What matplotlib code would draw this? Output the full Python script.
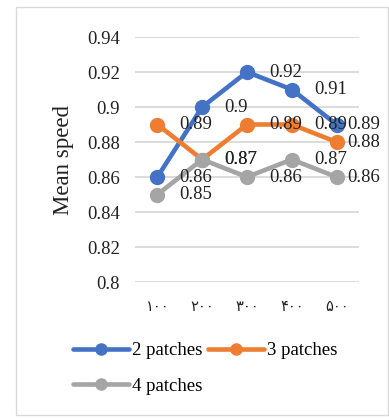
import matplotlib
matplotlib.use('Agg')
import matplotlib.pyplot as plt
from matplotlib.patches import Rectangle

# data
cats = ['۱۰۰', '۲۰۰', '۳۰۰', '۴۰۰', '۵۰۰']
p2 = [0.86, 0.90, 0.92, 0.91, 0.89]
p3 = [0.89, 0.87, 0.89, 0.89, 0.88]
p4 = [0.85, 0.87, 0.86, 0.87, 0.86]
names = ['2 patches', '3 patches', '4 patches']
yticks = [0.8, 0.82, 0.84, 0.86, 0.88, 0.9, 0.92, 0.94]

colors = ['#4472C4', '#ED7D31', '#A5A5A5']
serif = ['Liberation Serif', 'DejaVu Sans']
fs = 13.5

W, H = 389, 419
fig = plt.figure(figsize=(W / 100, H / 100), dpi=100)
ax = fig.add_axes([135 / W, 1 - 282 / H, 224 / W, 245 / H])

x = list(range(len(cats)))
lines = []
for vals, c, n in zip([p2, p3, p4], colors, names):
    ln, = ax.plot(x, vals, color=c, lw=3.3, marker='o', ms=10, label=n,
                  solid_capstyle='round', zorder=3)
    lines.append(ln)

# data labels to the right of the points
for vals in [p2, p3, p4]:
    for i, v in enumerate(vals):
        dx = 11 if i == len(vals) - 1 else 22
        ax.annotate(f'{v:g}', (i, v), xytext=(dx, 0), textcoords='offset pixels',
                    ha='left', va='center', fontsize=fs, family=serif,
                    color='#222222', zorder=4, annotation_clip=False)

ax.set_xlim(-0.5, len(cats) - 0.5)
ax.set_ylim(0.8, 0.94)
ax.set_yticks(yticks)
ax.set_yticklabels([f'{t:g}' for t in yticks], fontsize=fs, family=serif, color='#222222')
ax.set_xticks(x)
ax.set_xticklabels(cats, fontsize=10.5, family=['DejaVu Sans'], color='#222222')
ax.tick_params(axis='y', length=0, pad=11)
ax.tick_params(axis='x', length=0, pad=12)
ax.grid(axis='y', color='#D9D9D9', lw=1.3)
ax.set_axisbelow(True)
for s in ax.spines.values():
    s.set_visible(False)

fig.text(64 / W, 1 - 160 / H, 'Mean speed', rotation=90, ha='center', va='center',
         fontsize=16.5, family=serif, color='#222222')

leg = fig.legend([lines[0], lines[2], lines[1]], [names[0], names[2], names[1]],
                 ncol=2, loc='upper left', bbox_to_anchor=(73 / W, 1 - 342 / H),
                 frameon=False, prop={'family': serif, 'size': fs},
                 handlelength=3.0, handletextpad=0.15, columnspacing=0.3,
                 labelspacing=1.0, markerscale=0.8, borderpad=0, borderaxespad=0)

fig.patches.append(Rectangle((16 / W, 1 - 415 / H), 372 / W, 408 / H,
                             transform=fig.transFigure, fill=False,
                             edgecolor='#D9D9D9', lw=1))

fig.savefig('out.png', dpi=100)
